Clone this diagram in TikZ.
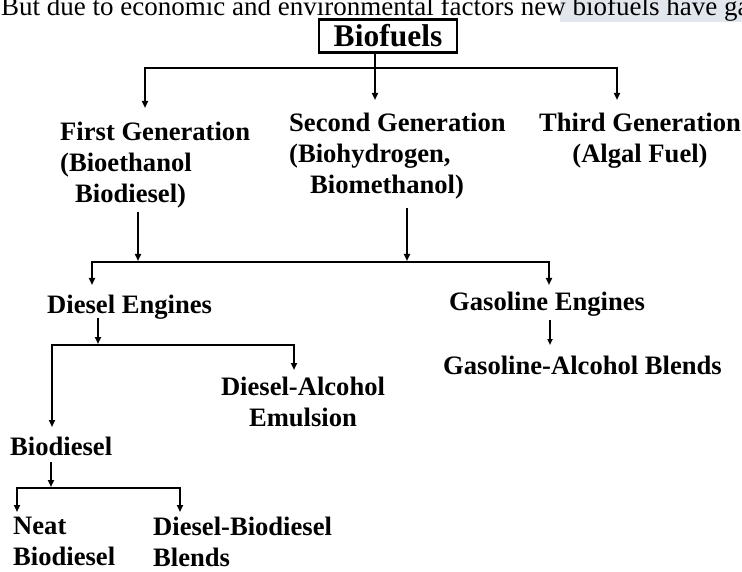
\documentclass[tikz,border=0pt]{standalone}
\usepackage{fontspec}
\setmainfont{Liberation Serif}
\usetikzlibrary{arrows.meta}

\definecolor{marker}{RGB}{226,230,237}

\begin{document}
\begin{tikzpicture}[x = 1pt, y = -1pt,
  txt/.style = {inner sep = 0pt, font = \fontsize{26.6}{31}\selectfont\bfseries},
  conn/.style = {line width = 2.6pt, -{Triangle[length = 7pt, width = 6pt]}},
  thin conn/.style = {line width = 1.6pt, -{Triangle[length = 6pt, width = 5pt]}}]

\path[use as bounding box, clip] (0, 0) rectangle (742, 572);

\fill[marker] (560, 0) rectangle (742, 22);
\node[anchor = base west, inner sep = 0pt, font = \fontsize{27}{32}\selectfont] (intro) at (1, 16)
  {But due to economic and environmental factors new biofuels have ga};

\node[draw, line width = 2.6pt, minimum width = 138pt, minimum height = 33pt, inner sep = 0pt,
  font = \fontsize{31.5}{34}\selectfont\bfseries] (bio) at (388, 36) {Biofuels};

\node[txt, anchor = north west, align = left] (first) at (60, 122)
  {First Generation\\(Bioethanol\\\hspace*{15pt}Biodiesel)};
\node[txt, anchor = north west, align = left] (second) at (289, 113)
  {Second Generation\\(Biohydrogen,\\\hspace*{21pt}Biomethanol)};
\node[txt, anchor = north, align = center] (third) at (640, 113)
  {Third Generation\\(Algal Fuel)};

\node[txt, anchor = base west] (diesel) at (47, 313) {Diesel Engines};
\node[txt, anchor = base west] (gasoline) at (449, 310) {Gasoline Engines};
\node[txt, anchor = north, align = center] (emulsion) at (303, 377) {Diesel-Alcohol\\Emulsion};
\node[txt, anchor = base west] (gblends) at (443, 374) {Gasoline-Alcohol Blends};
\node[txt, anchor = base west] (biodiesel) at (10, 455) {Biodiesel};
\node[txt, anchor = north west, align = left] (neat) at (13, 517) {Neat\\Biodiesel};
\node[txt, anchor = north west, align = left] (dblends) at (153, 517) {Diesel-Biodiesel\\Blends};

\coordinate (j1) at (375, 68);
\coordinate (tip1) at (145, 108);
\coordinate (tip2) at (375, 100);
\coordinate (tip3) at (617, 100);
\draw[line width = 2.6pt] (bio.south -| j1) -- (j1);
\draw[conn] (j1) -| (tip1);
\draw[conn] (j1) -- (tip2);
\draw[conn] (j1) -| (tip3);

\coordinate (from1) at (138, 212);
\coordinate (from2) at (407, 208);
\coordinate (j2) at (300, 262);
\coordinate (tip4) at (92, 285);
\coordinate (tip5) at (549, 285);
\draw[conn] (from1) -- ([yshift = 1pt]from1 |- j2);
\draw[conn] (from2) -- ([yshift = 1pt]from2 |- j2);
\draw[conn] (j2) -| (tip4);
\draw[conn] (j2) -| (tip5);

\coordinate (from3) at (98, 318);
\coordinate (j3) at (200, 345);
\coordinate (tip6) at (52, 427);
\coordinate (tip7) at (294, 370);
\draw[conn] (from3) -- ([yshift = 1pt]from3 |- j3);
\draw[conn] (j3) -| (tip6);
\draw[conn] (j3) -| (tip7);

\coordinate (from4) at (550, 320);
\coordinate (tip8) at (550, 345);
\draw[thin conn] (from4) -- (tip8);

\coordinate (from5) at (51, 462);
\coordinate (j4) at (100, 488);
\coordinate (tip9) at (17, 512);
\coordinate (tip10) at (180, 512);
\draw[conn] (from5) -- ([yshift = 1pt]from5 |- j4);
\draw[conn] (j4) -| (tip9);
\draw[conn] (j4) -| (tip10);

\end{tikzpicture}
\end{document}
